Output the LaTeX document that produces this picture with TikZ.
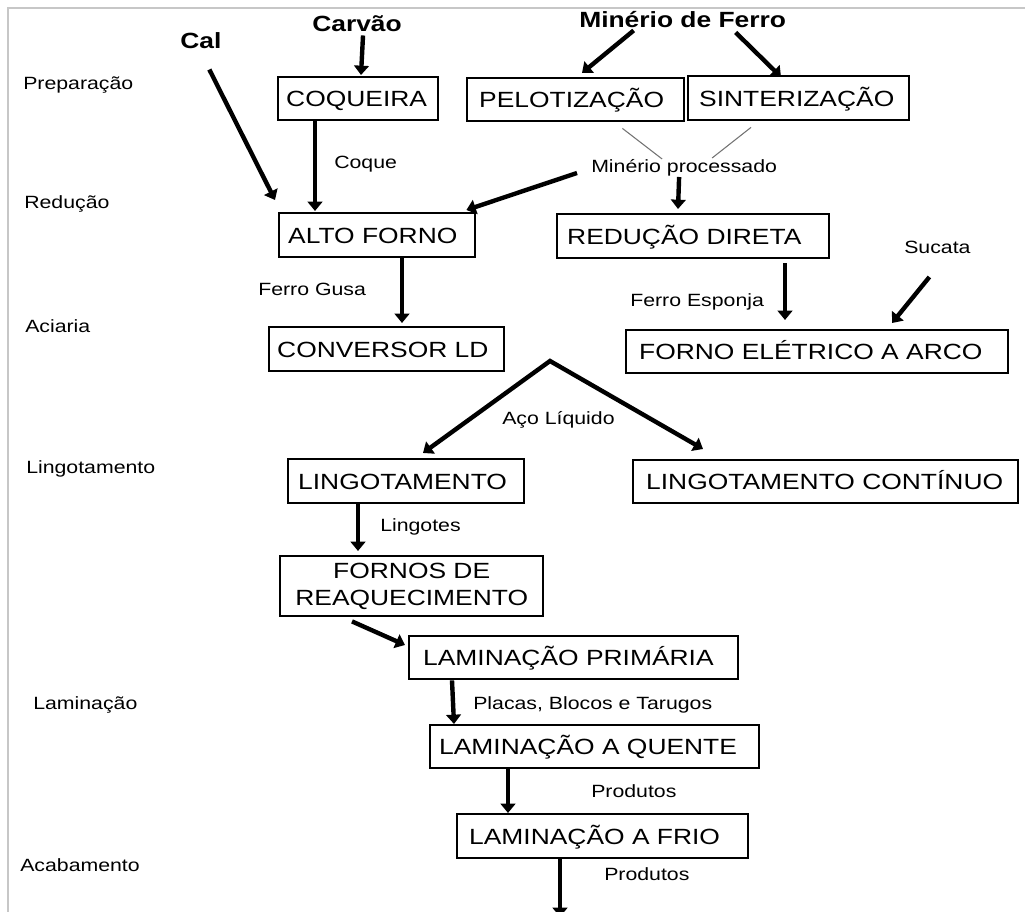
\documentclass[tikz,border=0pt]{standalone}
\usepackage{fontspec}
\setmainfont{Liberation Sans}[FakeStretch=1.2]
\usetikzlibrary{arrows.meta,calc}
\newcommand\boxf{\fontsize{16.5}{19.8}\selectfont}
\newcommand\labf{\fontsize{13.3}{16}\selectfont}
\newcommand\titf{\fontsize{16.5}{19.8}\selectfont\bfseries}
\begin{document}
\begin{tikzpicture}[x=0.75pt,y=-0.75pt,
  bxbase/.style={draw, line width=1.8pt, anchor=north west, inner ysep=0pt},
  bx/.style={bxbase, align=left, inner xsep=7.5pt, text height=11.8pt, text depth=0pt, font=\boxf},
  bx2/.style={bxbase, align=center, inner xsep=3pt, font=\fontsize{16.5}{20.25}\selectfont},
  lab/.style={anchor=base west, inner sep=0pt, font=\labf},
  tit/.style={anchor=base west, inner sep=0pt, font=\titf},
  arr/.style={line width=3.3pt, -{Triangle[length=7pt,width=11pt]}},
  arrboth/.style={line width=3.3pt, line join=miter,
    {Triangle[length=7pt,width=11pt]}-{Triangle[length=7pt,width=11pt]}},
  thin/.style={line width=0.8pt, draw=black!55},
  frame/.style={line width=1.5pt, draw=black!22}]
\useasboundingbox (0,0) rectangle (1025,912);
\draw[frame] (8,912) -- (8,8) -- (1025,8);

% stage labels
\node[lab] (sprep) at (23,90) {Preparação};
\node[lab] (sred)  at (24,209) {Redução};
\node[lab] (saci)  at (25,333) {Aciaria};
\node[lab] (sling) at (26,474) {Lingotamento};
\node[lab] (slam)  at (33,709) {Laminação};
\node[lab] (saca)  at (20,871) {Acabamento};

% raw materials
\node[tit] (cal) at (180,49) {Cal};
\node[tit] (carvao) at (312,32) {Carvão};
\node[tit] (minerio) at (579,28) {Minério de Ferro};

% boxes
\node[bx, inner xsep=6pt, text width=108pt, minimum height=32.25pt] (coq) at (277,76) {\mbox{COQUEIRA}};
\node[bx, inner xsep=9pt, text width=144.75pt, minimum height=32.25pt] (pel) at (466,77) {\mbox{PELOTIZAÇÃO}};
\node[bx, inner xsep=8.25pt, text width=149.25pt, minimum height=33pt] (sin) at (687,75) {\mbox{SINTERIZAÇÃO}};
\node[bx, inner xsep=6.75pt, text width=133.5pt, minimum height=33pt] (alto) at (278,212) {\mbox{ALTO FORNO}};
\node[bx, text width=189pt, minimum height=33pt] (red) at (556,213) {\mbox{REDUÇÃO DIRETA}};
\node[bx, inner xsep=6pt, text width=164.25pt, minimum height=33pt] (conv) at (268,326) {\mbox{CONVERSOR LD}};
\node[bx, inner xsep=9.75pt, text width=267pt, minimum height=32.25pt] (fea) at (625,329) {\mbox{FORNO ELÉTRICO A ARCO}};
\node[bx, text width=162pt, minimum height=33pt] (lingo) at (287,458) {\mbox{LINGOTAMENTO}};
\node[bx, inner xsep=9.75pt, text width=269.25pt, minimum height=32.25pt] (lc) at (632,459) {\mbox{LINGOTAMENTO CONTÍNUO}};
\node[bx2, text width=191.25pt, minimum height=45pt] (fornos) at (279,555)
  {FORNOS DE\\REAQUECIMENTO};
\node[bx, inner xsep=10.5pt, text width=225.75pt, minimum height=32.25pt] (lp) at (408,635) {\mbox{LAMINAÇÃO PRIMÁRIA}};
\node[bx, inner xsep=6.75pt, text width=233.25pt, minimum height=32.25pt] (lq) at (429,724) {\mbox{LAMINAÇÃO A QUENTE}};
\node[bx, inner xsep=9pt, text width=200.25pt, minimum height=33pt] (lf) at (456,813) {\mbox{LAMINAÇÃO A FRIO}};

% connector labels
\node[lab] (coque) at (334,169) {Coque};
\node[lab] (mp) at (591,173) {Minério processado};
\node[lab] (gusa) at (258,296) {Ferro Gusa};
\node[lab] (esponja) at (630,307) {Ferro Esponja};
\node[lab] (sucata) at (904,254) {Sucata};
\node[lab] (aco) at (502,425) {Aço Líquido};
\node[lab] (lingotes) at (380,532) {Lingotes};
\node[lab] (placas) at (473,709) {Placas, Blocos e Tarugos};
\node[lab] (prod1) at (591,797) {Produtos};
\node[lab] (prod2) at (604,880) {Produtos};

\coordinate (apex) at (550,361);
\coordinate (out) at (560,917);

% connectors
\draw[arr] ($(carvao.south)+(6,3)$) -- ($(coq.north west)+(84,-1)$);
\draw[arr] ($(cal.south)+(8.5,20)$) -- ($(alto.north west)+(-3,-12)$);
\draw[arr] ($(coq.south west)+(38,0)$) -- ($(alto.north west)+(37,-1)$);
\draw[arr] ($(minerio.south)+(-49,2)$) -- ($(pel.north west)+(116,-4)$);
\draw[arr] ($(minerio.south)+(53,4)$) -- ($(sin.north west)+(94,2)$);
\draw[thin] ($(pel.south east)+(-63,6)$) -- ($(mp.base)+(-22,-14)$);
\draw[thin] ($(sin.south west)+(64,6)$) -- ($(mp.base)+(28,-15)$);
\draw[arr] ($(mp.base west)+(-14,0)$) -- ($(alto.north east)+(-10,-2)$);
\draw[arr] ($(mp.base)+(-5,4)$) -- ($(red.north west)+(122,-4)$);
\draw[arr] ($(alto.south west)+(124,0)$) -- ($(conv.north west)+(134,-3)$);
\draw[arr] ($(red.south west)+(229,4)$) -- ($(fea.north west)+(160,-9)$);
\draw[arr] ($(sucata.base)+(-8,23)$) -- ($(fea.north west)+(267,-6)$);
\draw[arrboth] ($(lingo.north west)+(136,-5)$) -- (apex) -- ($(lc.north west)+(71,-10)$);
\draw[arr] ($(lingo.south west)+(71,0)$) -- ($(fornos.north west)+(79,-4)$);
\draw[arr] ($(fornos.south west)+(73,4)$) -- ($(lp.north west)+(-3,10)$);
\draw[arr] ($(lp.south west)+(44,0)$) -- ($(lq.north west)+(25,0)$);
\draw[arr] ($(lq.south west)+(79,0)$) -- ($(lf.north west)+(52,0)$);
\draw[arr] ($(lf.south west)+(104,0)$) -- (out);
\end{tikzpicture}
\end{document}
